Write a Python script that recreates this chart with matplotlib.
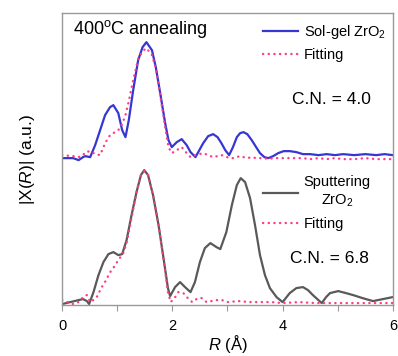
import matplotlib.pyplot as plt
from matplotlib.ticker import MultipleLocator

plt.rcParams['font.family'] = ['Liberation Sans', 'DejaVu Sans']
plt.rcParams['mathtext.fontset'] = 'custom'
plt.rcParams['mathtext.rm'] = 'Liberation Sans'
plt.rcParams['mathtext.it'] = 'Liberation Sans:italic'

# Sol-gel ZrO2 (upper pair, shifted up by OFFSET)
solgel_r = [0.0, 0.2, 0.3, 0.38, 0.42, 0.51, 0.6, 0.69, 0.78, 0.87, 0.93, 1.02, 1.09,
            1.15, 1.21, 1.29, 1.38, 1.46, 1.53, 1.63, 1.70, 1.78, 1.87, 1.93, 1.99,
            2.08, 2.17, 2.26, 2.33, 2.42, 2.56, 2.65, 2.74, 2.82, 2.89, 2.96, 3.03, 3.1,
            3.17, 3.23, 3.29, 3.36, 3.44, 3.52, 3.59, 3.67, 3.74, 3.83, 3.92, 4.02, 4.13,
            4.25, 4.37, 4.5, 4.65, 4.8, 4.95, 5.1, 5.3, 5.5, 5.7, 5.85, 6.0]
solgel_y = [0.01, 0.01, -0.01, 0.02, 0.03, 0.02, 0.14, 0.29, 0.44, 0.52, 0.54, 0.46, 0.29,
            0.22, 0.39, 0.69, 0.99, 1.12, 1.17, 1.09, 0.92, 0.66, 0.36, 0.19, 0.12,
            0.17, 0.20, 0.14, 0.07, 0.02, 0.16, 0.23, 0.25, 0.22, 0.16, 0.09, 0.04, 0.12,
            0.22, 0.26, 0.27, 0.25, 0.19, 0.12, 0.06, 0.02, 0.01, 0.03, 0.06, 0.08, 0.08,
            0.07, 0.05, 0.05, 0.04, 0.05, 0.04, 0.05, 0.04, 0.05, 0.04, 0.05, 0.04]
solgel_fit_y = [0.04, 0.03, 0.02, 0.04, 0.07, 0.08, 0.05, 0.04, 0.16, 0.24, 0.26, 0.29, 0.35,
                0.44, 0.58, 0.79, 1.00, 1.08, 1.11, 1.04, 0.91, 0.64, 0.32, 0.12, 0.06,
                0.09, 0.12, 0.06, 0.02, 0.04, 0.06, 0.04, 0.02, 0.03, 0.04, 0.03, 0.01, 0.01,
                0.02, 0.03, 0.02, 0.01, 0.02, 0.01, 0.01, 0.01, 0.00, 0.01, 0.01, 0.01, 0.01,
                0.01, 0.01, 0.00, 0.01, 0.00, 0.01, 0.00, 0.00, 0.01, 0.00, 0.00, 0.00]

# Sputtering ZrO2 (lower pair)
sput_r = [0.0, 0.15, 0.3, 0.38, 0.45, 0.49, 0.57, 0.66, 0.75, 0.84, 0.93, 1.02, 1.09,
          1.17, 1.26, 1.35, 1.43, 1.49, 1.56, 1.65, 1.75, 1.84, 1.92, 1.96, 2.05,
          2.14, 2.23, 2.33, 2.41, 2.5, 2.59, 2.69, 2.8, 2.87, 2.98, 3.08, 3.17, 3.24,
          3.32, 3.41, 3.5, 3.59, 3.68, 3.77, 3.89, 4.0, 4.13, 4.25, 4.37, 4.46, 4.55,
          4.63, 4.71, 4.79, 4.86, 5.01, 5.15, 5.28, 5.45, 5.64, 5.82, 6.0]
sput_y = [0.0, 0.02, 0.04, 0.05, 0.03, 0.0, 0.12, 0.29, 0.42, 0.50, 0.52, 0.49, 0.50,
          0.64, 0.89, 1.12, 1.29, 1.34, 1.29, 1.09, 0.79, 0.46, 0.16, 0.08, 0.17,
          0.22, 0.17, 0.12, 0.22, 0.42, 0.56, 0.61, 0.57, 0.55, 0.72, 0.99, 1.19, 1.26,
          1.22, 1.06, 0.79, 0.49, 0.29, 0.16, 0.07, 0.02, 0.11, 0.16, 0.17, 0.14, 0.09,
          0.05, 0.01, 0.07, 0.11, 0.13, 0.11, 0.09, 0.06, 0.03, 0.05, 0.07]
sput_fit_r = [0.0, 0.1, 0.2, 0.3, 0.4, 0.45, 0.51, 0.62, 0.71, 0.80, 0.86, 0.94, 1.02,
              1.11, 1.17, 1.26, 1.35, 1.43, 1.49, 1.56, 1.65, 1.75, 1.84, 1.92, 1.97,
              2.04, 2.11, 2.2, 2.28, 2.36, 2.41, 2.47, 2.53, 2.62, 2.71, 2.8, 2.9, 3.0,
              3.2, 3.4, 3.6, 3.8, 4.0, 4.3, 4.6, 4.9, 5.2, 5.5, 5.8, 6.0]
sput_fit_y = [0.04, 0.02, 0.0, 0.02, 0.08, 0.09, 0.02, 0.06, 0.16, 0.24, 0.31, 0.37, 0.44,
              0.51, 0.61, 0.86, 1.12, 1.29, 1.33, 1.29, 1.09, 0.79, 0.45, 0.12, 0.02,
              0.06, 0.12, 0.11, 0.06, 0.02, 0.04, 0.06, 0.06, 0.02, 0.03, 0.04, 0.04, 0.02,
              0.03, 0.02, 0.02, 0.02, 0.01, 0.02, 0.01, 0.01, 0.01, 0.01, 0.01, 0.01]

OFFSET = 1.45
BLUE = '#3636d2'
GRAY = '#595959'
PINK = '#ff3a86'
dot = dict(color=PINK, lw=1.7, linestyle=(0, (0.1, 2.3)), dash_capstyle='round')

fig = plt.figure(figsize=(3.98, 3.56), dpi=100)
ax = fig.add_axes([0.156, 0.143, 0.831, 0.820])

l1, = ax.plot(solgel_r, [v + OFFSET for v in solgel_y], color=BLUE, lw=1.6, label='Sol-gel ZrO$_2$')
f1, = ax.plot(solgel_r, [v + OFFSET for v in solgel_fit_y], label='Fitting', **dot)
l2, = ax.plot(sput_r, sput_y, color=GRAY, lw=1.6, label='Sputtering\nZrO$_2$')
f2, = ax.plot(sput_fit_r, sput_fit_y, label='Fitting', **dot)

ax.set_xlim(0, 6)
ax.set_ylim(-0.01, 2.91)
ax.xaxis.set_major_locator(MultipleLocator(2))
ax.xaxis.set_minor_locator(MultipleLocator(1))
ax.tick_params(axis='x', which='both', direction='out', length=4, width=0.8,
               color='#999999', labelsize=10.5, pad=6)
ax.tick_params(axis='y', left=False, labelleft=False)
for s in ax.spines.values():
    s.set_color('#999999')
    s.set_linewidth(1.0)

ax.set_xlabel('$R$ (Å)', fontsize=12, labelpad=0)
ax.set_ylabel('|X($R$)| (a.u.)', fontsize=12.5)
ax.yaxis.set_label_coords(-0.075, 0.5)

ax.text(0.033, 0.985, '400$^{\\rm o}$C annealing', transform=ax.transAxes,
        fontsize=13, va='top', ha='left')
ax.text(0.695, 0.705, 'C.N. = 4.0', transform=ax.transAxes, fontsize=12.5, va='center')
ax.text(0.69, 0.16, 'C.N. = 6.8', transform=ax.transAxes, fontsize=12.5, va='center')

leg1 = ax.legend(handles=[l1, f1], loc='upper left', bbox_to_anchor=(0.585, 0.99),
                 frameon=False, fontsize=10.5, handlelength=2.4, handletextpad=0.4,
                 borderpad=0, labelspacing=0.45)
ax.add_artist(leg1)
leg2 = ax.legend(handles=[l2, f2], loc='upper left', bbox_to_anchor=(0.585, 0.47),
                 frameon=False, fontsize=10.5, handlelength=2.4, handletextpad=0.4,
                 borderpad=0, labelspacing=0.55)
for t in leg2.get_texts():
    t.set_multialignment('center')
    t.set_linespacing(1.3)

fig.savefig('out.png', dpi=100)
